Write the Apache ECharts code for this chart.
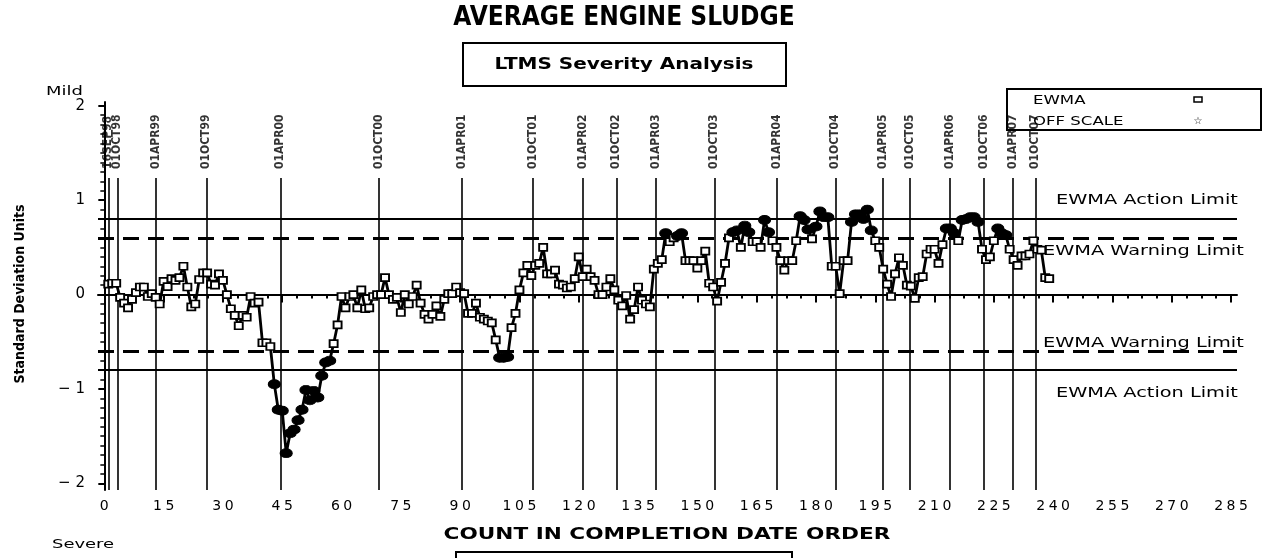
<!DOCTYPE html>
<html>
<head>
<meta charset="utf-8">
<script src="https://cdn.jsdelivr.net/npm/echarts@6/dist/echarts.min.js"></script>
<style>
  html, body { margin: 0; padding: 0; background: #fff; }
  #chart { width: 1263px; height: 558px; }
</style>
</head>
<body>
<div id="chart"></div>
<script>
// EWMA values, test count 1..239
const ewma = [
  0.11, 0.12, 0.12, -0.03, -0.09, -0.14, -0.05, 0.02, 0.08, 0.08,
  -0.02, 0.01, -0.03, -0.10, 0.14, 0.085, 0.17, 0.15, 0.18, 0.30,
  0.08, -0.13, -0.10, 0.16, 0.23, 0.23, 0.11, 0.10, 0.22, 0.15,
  0.00, -0.15, -0.22, -0.33, -0.22, -0.24, -0.02, -0.09, -0.08, -0.51,
  -0.51, -0.55, -0.95, -1.22, -1.23, -1.68, -1.47, -1.43, -1.33, -1.22,
  -1.01, -1.12, -1.02, -1.09, -0.86, -0.72, -0.70, -0.52, -0.32, -0.02,
  -0.14, -0.02, 0.00, -0.14, 0.05, -0.15, -0.14, -0.02, 0.00, 0.00,
  0.18, 0.00, -0.05, -0.03, -0.19, 0.00, -0.10, -0.02, 0.10, -0.09,
  -0.21, -0.26, -0.21, -0.12, -0.23, -0.05, 0.01, 0.01, 0.08, 0.02,
  0.01, -0.20, -0.20, -0.09, -0.24, -0.26, -0.28, -0.30, -0.48, -0.67,
  -0.67, -0.66, -0.35, -0.20, 0.05, 0.23, 0.31, 0.20, 0.31, 0.33,
  0.50, 0.22, 0.22, 0.26, 0.11, 0.10, 0.07, 0.08, 0.17, 0.40,
  0.19, 0.27, 0.19, 0.15, 0.00, 0.00, 0.08, 0.17, 0.05, -0.06,
  -0.12, -0.01, -0.26, -0.16, 0.08, -0.06, -0.10, -0.13, 0.27, 0.33,
  0.37, 0.65, 0.56, 0.60, 0.62, 0.65, 0.36, 0.36, 0.36, 0.28,
  0.36, 0.46, 0.12, 0.08, -0.07, 0.13, 0.33, 0.60, 0.66, 0.68,
  0.50, 0.73, 0.66, 0.56, 0.56, 0.50, 0.79, 0.66, 0.57, 0.50,
  0.36, 0.26, 0.36, 0.36, 0.57, 0.83, 0.79, 0.69, 0.59, 0.72,
  0.88, 0.82, 0.82, 0.30, 0.30, 0.01, 0.36, 0.36, 0.77, 0.85,
  0.85, 0.80, 0.90, 0.68, 0.57, 0.50, 0.27, 0.11, -0.02, 0.22,
  0.39, 0.31, 0.10, 0.09, -0.04, 0.18, 0.19, 0.43, 0.48, 0.48,
  0.33, 0.53, 0.70, 0.70, 0.65, 0.57, 0.79, 0.80, 0.82, 0.82,
  0.77, 0.48, 0.37, 0.40, 0.57, 0.70, 0.65, 0.63, 0.48, 0.37,
  0.31, 0.41, 0.41, 0.43, 0.57, 0.48, 0.47, 0.18, 0.17
];

// calendar reference lines (position on the count axis)
const dateLabels = ['16SEP98', '01OCT98', '01APR99', '01OCT99', '01APR00', '01OCT00',
  '01APR01', '01OCT01', '01APR02', '01OCT02', '01APR03', '01OCT03', '01APR04',
  '01OCT04', '01APR05', '01OCT05', '01APR06', '01OCT06', '01APR07', '01OCT07'];
const datePositions = [1, 3.3, 13, 25.8, 44.5, 69.4, 90.5, 108.4, 121.1, 129.5,
  139.6, 154.3, 170.2, 184.9, 196.9, 203.8, 213.8, 222.5, 229.7, 235.5];

const xTicks = [0, 15, 30, 45, 60, 75, 90, 105, 120, 135, 150, 165, 180, 195,
  210, 225, 240, 255, 270, 285];
const yTicks = [-2, -1, 0, 1, 2];
const actionLimit = 0.8;
const warningLimit = 0.6;

const xMin = -1.6, xMax = 286.5, yMin = -2.07, yMax = 2.04;
const dateLineTop = 1.235, dateLabelBase = 1.33;

const minorX = [];
for (let v = 0; v <= 285; v += 3.75) minorX.push(v);
const minorY = [];
for (let v = -20; v <= 20; v++) minorY.push(v / 10);

const wideFont = '"DejaVu Sans", sans-serif';
const narrowFont = '"Liberation Sans Narrow", "DejaVu Sans Condensed", sans-serif';
const spaced = s => String(s).split('').join('\u2005');

const points = ewma.map((v, i) => {
  const off = Math.abs(v) > warningLimit;
  return {
    value: [i + 1, v],
    symbol: off ? 'circle' : 'rect',
    symbolSize: off ? [12, 9] : [8, 7],
    itemStyle: off
      ? { color: '#000', borderColor: '#000', borderWidth: 1 }
      : { color: '#fff', borderColor: '#000', borderWidth: 1.8 }
  };
});

// wide SAS-like label text
const wideText = (text, x, y, size, opts) => Object.assign({
  type: 'text', x: x, y: y, scaleX: 1.38,
  style: { text: text, fill: '#000', verticalAlign: 'middle', font: size + 'px ' + wideFont }
}, opts || {});

const chart = echarts.init(document.getElementById('chart'));

chart.setOption({
  animation: false,
  backgroundColor: '#fff',
  grid: { left: 98, right: 26, top: 102, bottom: 68, outerBoundsMode: 'none' },
  xAxis: [
    {
      type: 'value', min: xMin, max: xMax,
      axisLine: { show: true, lineStyle: { color: '#000', width: 2 } },
      axisTick: { show: true, length: 8, customValues: xTicks, lineStyle: { color: '#000', width: 2 } },
      axisLabel: {
        customValues: xTicks, margin: 9, color: '#000', fontSize: 14, fontFamily: wideFont,
        formatter: v => spaced(v)
      },
      splitLine: { show: false }
    },
    {
      type: 'value', min: xMin, max: xMax, position: 'bottom',
      axisLine: { show: false },
      axisTick: { show: true, length: 4, customValues: minorX, lineStyle: { color: '#000', width: 2 } },
      axisLabel: { show: false },
      splitLine: { show: false }
    }
  ],
  yAxis: [
    {
      type: 'value', min: yMin, max: yMax,
      axisLine: { show: true, lineStyle: { color: '#000', width: 2 } },
      axisTick: { show: true, length: 6, customValues: yTicks, lineStyle: { color: '#000', width: 2 } },
      axisLabel: {
        customValues: yTicks, margin: 13, color: '#000', fontSize: 15, fontFamily: wideFont,
        formatter: v => (v < 0 ? '\u2212\u2004' + Math.abs(v) : String(v))
      },
      splitLine: { show: false }
    },
    {
      type: 'value', min: yMin, max: yMax, position: 'left',
      axisLine: { show: false },
      axisTick: { show: true, length: 4, customValues: minorY, lineStyle: { color: '#000', width: 1.5 } },
      axisLabel: { show: false },
      splitLine: { show: false }
    }
  ],
  series: [
    {
      name: 'dates',
      type: 'scatter',
      symbolSize: 0,
      silent: true,
      z: 20,
      data: datePositions.map(x => [x, dateLabelBase]),
      label: {
        show: true, position: 'inside', rotate: 90, align: 'left', verticalAlign: 'middle',
        color: '#000', fontSize: 12, fontWeight: 'bold', fontFamily: narrowFont,
        formatter: p => dateLabels[p.dataIndex]
      },
      markLine: {
        silent: true, symbol: 'none', animation: false,
        label: { show: false },
        lineStyle: { color: '#000', width: 1.6, type: 'solid' },
        data: datePositions.map(x => [{ coord: [x, dateLineTop] }, { coord: [x, yMin] }])
      }
    },
    {
      name: 'limits',
      type: 'line',
      data: [],
      silent: true,
      markLine: {
        silent: true, symbol: 'none', animation: false,
        label: { show: false },
        data: [
          { yAxis: actionLimit, lineStyle: { color: '#000', width: 2, type: 'solid' } },
          { yAxis: -actionLimit, lineStyle: { color: '#000', width: 2, type: 'solid' } },
          { yAxis: warningLimit, lineStyle: { color: '#000', width: 3, type: [16, 9] } },
          { yAxis: -warningLimit, lineStyle: { color: '#000', width: 3, type: [16, 9] } }
        ]
      }
    },
    {
      name: 'EWMA',
      type: 'line',
      data: points,
      z: 5,
      lineStyle: { color: '#000', width: 2.8 },
      showAllSymbol: true
    }
  ],
  graphic: [
    { type: 'text', x: 624, y: 18, style: {
      text: 'AVERAGE ENGINE SLUDGE', fill: '#000', align: 'center', verticalAlign: 'middle',
      font: 'bold 26px ' + narrowFont } },
    { type: 'rect', shape: { x: 463, y: 43, width: 323, height: 43 },
      style: { fill: 'none', stroke: '#000', lineWidth: 2 } },
    { type: 'text', x: 624, y: 65, scaleX: 1.25, style: {
      text: 'LTMS Severity Analysis', fill: '#000', align: 'center', verticalAlign: 'middle',
      font: 'bold 16px ' + wideFont } },
    wideText('Mild', 46, 92, 13),
    wideText('Severe', 52, 545, 13),
    { type: 'text', x: 20, y: 294, rotation: Math.PI / 2, style: {
      text: 'Standard Deviation Units', fill: '#000', align: 'center', verticalAlign: 'middle',
      font: 'bold 14px ' + narrowFont } },
    { type: 'text', x: 667, y: 535, scaleX: 1.35, style: {
      text: 'COUNT IN COMPLETION DATE ORDER', fill: '#000', align: 'center', verticalAlign: 'middle',
      font: 'bold 16px ' + wideFont } },
    { type: 'rect', shape: { x: 456, y: 552, width: 336, height: 30 },
      style: { fill: 'none', stroke: '#000', lineWidth: 2 } },
    // legend box
    { type: 'rect', z: 1, shape: { x: 1007, y: 89, width: 254, height: 41 },
      style: { fill: '#fff', stroke: '#000', lineWidth: 2 } },
    wideText('EWMA', 1033, 101, 12, { z: 1 }),
    wideText('OFF SCALE', 1033, 122, 12, { z: 1 }),
    { type: 'rect', z: 1, shape: { x: 1194, y: 97, width: 8, height: 5 },
      style: { fill: '#fff', stroke: '#000', lineWidth: 1.5 } },
    { type: 'text', z: 1, x: 1198, y: 121, style: {
      text: '\u2606', fill: '#000', align: 'center', verticalAlign: 'middle', font: '10px ' + wideFont } },
    // limit labels
    wideText('EWMA Action Limit', 1056, 200, 14),
    wideText('EWMA Warning Limit', 1043, 251, 14),
    wideText('EWMA Warning Limit', 1043, 343, 14),
    wideText('EWMA Action Limit', 1056, 393, 14)
  ]
});
</script>
</body>
</html>
